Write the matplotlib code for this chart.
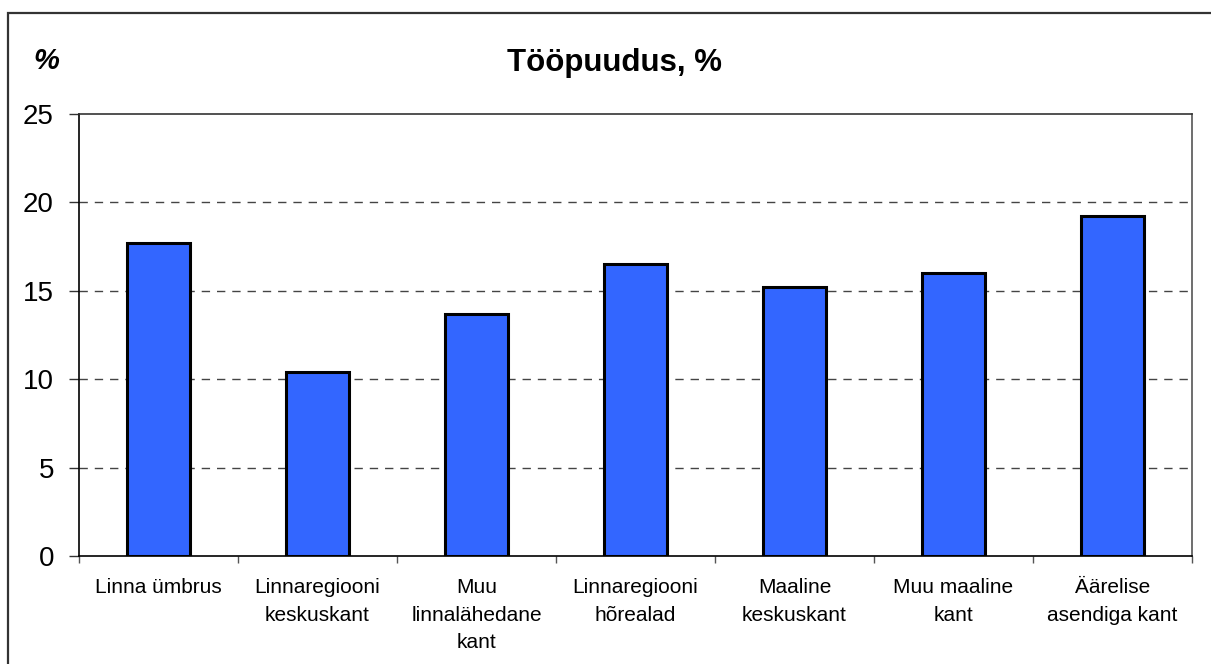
import matplotlib
matplotlib.use("Agg")
import matplotlib.pyplot as plt
from matplotlib.patches import Rectangle

plt.rcParams['font.family'] = ['Liberation Sans', 'DejaVu Sans']

# andmed
kategooriad = ["Linna ümbrus", "Linnaregiooni\nkeskuskant", "Muu\nlinnalähedane\nkant",
               "Linnaregiooni\nhõrealad", "Maaline\nkeskuskant", "Muu maaline\nkant",
               "Äärelise\nasendiga kant"]
toopuudus = [17.7, 10.4, 13.7, 16.5, 15.2, 16.0, 19.25]
y_ticks = [0, 5, 10, 15, 20, 25]

W, H = 1211, 664
fig = plt.figure(figsize=(W / 100, H / 100), dpi=100)
fig.patch.set_facecolor("white")

# raam ümber (pilt on lõigatud, paremal ja all pole näha)
fig.patches.append(Rectangle((8 / W, -0.1), 1.2, 1.1 - 13 / H, transform=fig.transFigure,
                             fill=False, edgecolor="#333333", linewidth=1.6))

ax = fig.add_axes([79 / W, 1 - 556 / H, (1192 - 79) / W, (556 - 114) / H])

x = list(range(len(kategooriad)))
ax.bar(x, toopuudus, width=0.4, color="#3366FF", edgecolor="black", linewidth=2.2, zorder=3)

ax.set_xlim(-0.5, len(kategooriad) - 0.5)
ax.set_ylim(0, 25)
ax.set_yticks(y_ticks)
ax.set_yticklabels([str(v) for v in y_ticks], fontsize=20)
ax.tick_params(axis="y", length=7, width=1, pad=11, color="#333333")

# x-teljel märgid kategooriate vahel
ax.set_xticks([i - 0.5 for i in range(len(kategooriad) + 1)])
ax.set_xticklabels([])
ax.tick_params(axis="x", length=5, width=1, color="#555555")
ax.set_xticks(x, minor=True)
ax.set_xticklabels(kategooriad, minor=True, fontsize=15, linespacing=1.56)
ax.tick_params(axis="x", which="minor", length=0, pad=16)

for v in y_ticks[1:-1]:
    ax.axhline(v, color="#444444", linestyle=(0, (6, 5)), linewidth=1, zorder=1)

ax.spines["left"].set_color("black")
ax.spines["bottom"].set_color("black")
ax.spines["top"].set_color("#333333")
ax.spines["right"].set_color("#555555")
for s in ax.spines.values():
    s.set_linewidth(1.2)

fig.text(615 / W, 1 - 63 / H, "Tööpuudus, %", fontsize=22.5, fontweight="bold",
         ha="center", va="center")
fig.text(46 / W, 1 - 61 / H, "%", fontsize=21, fontweight="bold", style="italic",
         ha="center", va="center")

fig.savefig("out.png", dpi=100)
